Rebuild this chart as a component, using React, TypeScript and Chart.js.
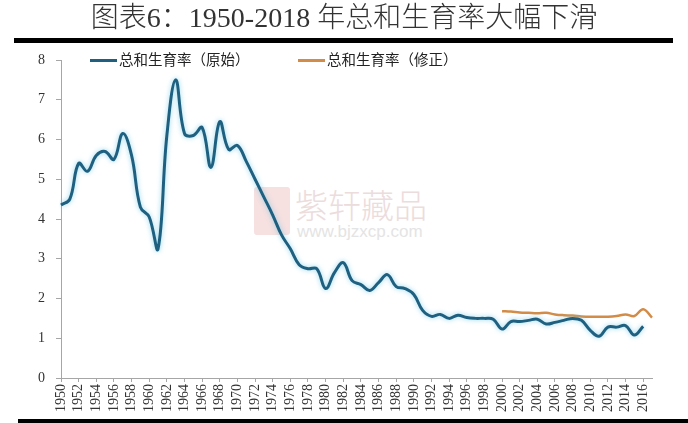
import React, { useEffect, useRef } from 'react';
import { Chart, registerables } from 'chart.js';

Chart.register(...registerables);

const years = [
  '1950', '1951', '1952', '1953', '1954', '1955', '1956', '1957', '1958', '1959',
  '1960', '1961', '1962', '1963', '1964', '1965', '1966', '1967', '1968', '1969',
  '1970', '1971', '1972', '1973', '1974', '1975', '1976', '1977', '1978', '1979',
  '1980', '1981', '1982', '1983', '1984', '1985', '1986', '1987', '1988', '1989',
  '1990', '1991', '1992', '1993', '1994', '1995', '1996', '1997', '1998', '1999',
  '2000', '2001', '2002', '2003', '2004', '2005', '2006', '2007', '2008', '2009',
  '2010', '2011', '2012', '2013', '2014', '2015', '2016', '2017',
];

// 总和生育率（原始）, 1950–2016
const originalTFR = [
  4.35, 4.5, 5.4, 5.2, 5.6, 5.7, 5.5, 6.15, 5.6, 4.3,
  4.05, 3.25, 6.1, 7.5, 6.15, 6.1, 6.3, 5.3, 6.45, 5.75,
  5.85, 5.45, 5.0, 4.55, 4.1, 3.6, 3.25, 2.85, 2.75, 2.75,
  2.25, 2.65, 2.9, 2.45, 2.35, 2.2, 2.4, 2.6, 2.3, 2.25,
  2.1, 1.7, 1.55, 1.6, 1.5, 1.58, 1.52, 1.5, 1.5, 1.48,
  1.23, 1.42, 1.42, 1.45, 1.48, 1.36, 1.4, 1.45, 1.5, 1.45,
  1.2, 1.05, 1.28, 1.28, 1.32, 1.08, 1.3,
];

// 总和生育率（修正）, 2000–2017
const revisedStart = '2000';
const revisedTFR = [
  1.68, 1.67, 1.65, 1.64, 1.63, 1.64, 1.6, 1.58, 1.57, 1.55,
  1.54, 1.54, 1.54, 1.56, 1.6, 1.56, 1.73, 1.52,
];

const yMin = 0;
const yMax = 8;
const yStep = 1;

const BLUE = '#1f6080';
const ORANGE = '#d38c48';
const SERIF = "'Liberation Serif', 'Noto Sans CJK SC', serif";

export default function App() {
  const ref = useRef<HTMLCanvasElement | null>(null);

  useEffect(() => {
    if (!ref.current) return;
    const startIdx = years.indexOf(revisedStart);
    const originalData = years.map((_, i) => (i < originalTFR.length ? originalTFR[i] : null));
    const revisedData = years.map((_, i) =>
      i >= startIdx && i - startIdx < revisedTFR.length ? revisedTFR[i - startIdx] : null
    );

    const glow = {
      id: 'glow',
      beforeDatasetDraw(chart: any, args: any) {
        if (args.index === 0) {
          const c = chart.ctx;
          c.save();
          c.shadowColor = 'rgba(110,200,230,0.75)';
          c.shadowBlur = 5;
        }
      },
      afterDatasetDraw(chart: any, args: any) {
        if (args.index === 0) chart.ctx.restore();
      },
    };

    const chart = new Chart(ref.current, {
      type: 'line',
      data: {
        labels: years,
        datasets: [
          {
            label: '总和生育率（原始）',
            data: originalData,
            borderColor: BLUE,
            borderWidth: 3,
            pointRadius: 0,
            tension: 0.4,
            fill: false,
          },
          {
            label: '总和生育率（修正）',
            data: revisedData,
            borderColor: ORANGE,
            borderWidth: 2.5,
            pointRadius: 0,
            tension: 0.4,
            fill: false,
          },
        ],
      },
      options: {
        responsive: false,
        animation: false,
        devicePixelRatio: 1,
        layout: { padding: { left: 0, right: 36, top: 60, bottom: 0 } },
        plugins: {
          legend: { display: false },
          tooltip: { enabled: false },
          title: { display: false },
        },
        scales: {
          x: {
            type: 'category',
            offset: false,
            grid: {
              drawOnChartArea: false,
              drawTicks: true,
              tickLength: 4,
              color: (c: any) => (c.index % 2 === 0 ? '#a6a6a6' : 'rgba(0,0,0,0)'),
            },
            border: { display: true, color: '#a6a6a6', width: 1 },
            ticks: {
              autoSkip: false,
              maxRotation: 90,
              minRotation: 90,
              padding: 2,
              color: '#333',
              font: { family: SERIF, size: 14 },
              callback: (_v: any, i: number) => (i % 2 === 0 ? years[i] : ''),
            },
            afterFit: (s: any) => {
              s.height = 45;
            },
          },
          y: {
            min: yMin,
            max: yMax,
            grid: {
              drawOnChartArea: false,
              drawTicks: true,
              tickLength: 5,
              color: '#a6a6a6',
            },
            border: { display: true, color: '#a6a6a6', width: 1 },
            ticks: {
              stepSize: yStep,
              padding: 11,
              color: '#333',
              font: { family: SERIF, size: 14 },
            },
            afterFit: (s: any) => {
              s.width = 61;
            },
          },
        },
      },
      plugins: [glow],
    });
    return () => chart.destroy();
  }, []);

  return (
    <div
      style={{
        position: 'absolute',
        left: 0,
        top: 0,
        width: 688,
        height: 423,
        background: '#fff',
        overflow: 'hidden',
      }}
    >
      {/* watermark */}
      <div
        style={{
          position: 'absolute',
          left: 254,
          top: 187,
          width: 36,
          height: 48,
          background: '#f6e0e0',
          borderRadius: 3,
        }}
      />
      <div
        style={{
          position: 'absolute',
          left: 295,
          top: 184,
          fontSize: 33,
          lineHeight: '40px',
          color: '#ecdcdc',
          fontFamily: "'Noto Sans CJK SC', sans-serif",
          fontWeight: 300,
          whiteSpace: 'nowrap',
        }}
      >
        紫轩藏品
      </div>
      <div
        style={{
          position: 'absolute',
          left: 297,
          top: 222,
          fontSize: 17,
          lineHeight: '20px',
          color: '#e4e4e4',
          fontFamily: "'Liberation Sans', sans-serif",
          whiteSpace: 'nowrap',
        }}
      >
        www.bjzxcp.com
      </div>

      <canvas
        ref={ref}
        width={688}
        height={423}
        style={{ position: 'absolute', left: 0, top: 0, width: 688, height: 423 }}
      />

      {/* title */}
      <div
        style={{
          position: 'absolute',
          left: 0,
          top: 1,
          width: 688,
          textAlign: 'center',
          fontSize: 28,
          lineHeight: '34px',
          color: '#333',
          fontFamily: SERIF,
          fontWeight: 300,
          whiteSpace: 'nowrap',
        }}
      >
        图表6：1950-2018 年总和生育率大幅下滑
      </div>
      <div
        style={{ position: 'absolute', left: 14, top: 38, width: 659, height: 5, background: '#000' }}
      />

      {/* legend */}
      <div style={{ position: 'absolute', left: 90, top: 59, width: 27, height: 3, background: BLUE }} />
      <div
        style={{
          position: 'absolute',
          left: 119,
          top: 51,
          fontSize: 14.5,
          lineHeight: '18px',
          color: '#222',
          fontFamily: SERIF,
          whiteSpace: 'nowrap',
        }}
      >
        总和生育率（原始）
      </div>
      <div style={{ position: 'absolute', left: 298, top: 59, width: 27, height: 3, background: ORANGE }} />
      <div
        style={{
          position: 'absolute',
          left: 327,
          top: 51,
          fontSize: 14.5,
          lineHeight: '18px',
          color: '#222',
          fontFamily: SERIF,
          whiteSpace: 'nowrap',
        }}
      >
        总和生育率（修正）
      </div>

      {/* bottom rule */}
      <div
        style={{ position: 'absolute', left: 18, top: 419, width: 670, height: 4, background: '#000' }}
      />
    </div>
  );
}
